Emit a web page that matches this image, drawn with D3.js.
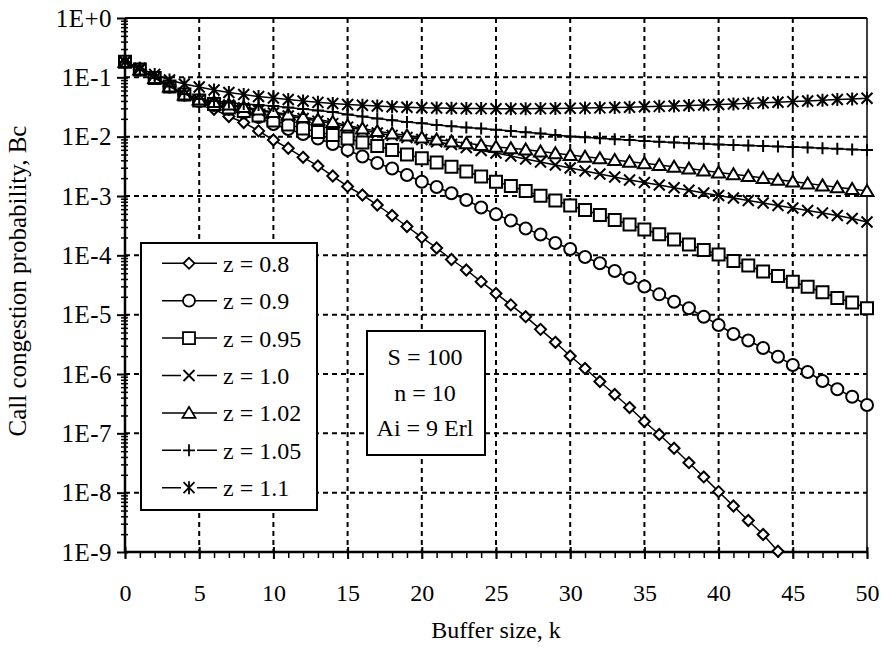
<!DOCTYPE html>
<html>
<head>
<meta charset="utf-8">
<script src="https://cdn.jsdelivr.net/npm/d3@7"></script>
<style>
  body { margin: 0; background: #fff; }
  svg text { font-family: "Liberation Serif", "Times New Roman", serif; fill: #000; }
</style>
</head>
<body>
<script>

//Buffer size values (x axis).
const bufferSizes = [0,1,2,3,4,5,6,7,8,9,10,11,12,13,14,15,16,17,18,19,20,21,22,23,24,25,
  26,27,28,29,30,31,32,33,34,35,36,37,38,39,40,41,42,43,44,45,46,47,48,49,50];

//Call congestion probability for each z.
const z08 = [0.183,0.136,0.0974,0.0700,0.0503,0.0389,0.0290,0.0219,0.0173,0.0125,
  8.79e-3,6.37e-3,4.49e-3,3.21e-3,2.17e-3,1.45e-3,1.04e-3,7.05e-4,4.69e-4,3.06e-4,
  2.01e-4,1.33e-4,8.51e-5,5.66e-5,3.60e-5,2.28e-5,1.46e-5,9.25e-6,5.66e-6,3.42e-6,
  2.01e-6,1.24e-6,7.48e-7,4.51e-7,2.72e-7,1.58e-7,9.56e-8,5.60e-8,3.20e-8,1.84e-8,
  1.04e-8,5.96e-9,3.40e-9,1.97e-9,1.03e-9];
const z09 = [0.183,0.136,0.0974,0.0700,0.0513,0.0399,0.0342,0.0292,0.0255,0.0215,
  0.0163,0.0135,0.0111,9.31e-3,7.52e-3,5.96e-3,4.63e-3,3.60e-3,2.91e-3,2.26e-3,
  1.74e-3,1.42e-3,1.11e-3,8.55e-4,6.40e-4,4.91e-4,3.86e-4,2.83e-4,2.24e-4,1.61e-4,
  1.28e-4,9.37e-5,7.34e-5,5.44e-5,4.15e-5,2.98e-5,2.20e-5,1.65e-5,1.28e-5,9.25e-6,
  6.70e-6,4.72e-6,3.67e-6,2.74e-6,1.95e-6,1.42e-6,1.08e-6,7.62e-7,5.52e-7,4.14e-7,3.00e-7];
const z095 = [0.183,0.136,0.0974,0.0700,0.0513,0.0407,0.0356,0.0310,0.0271,0.0228,
  0.0187,0.0160,0.0137,0.0120,0.0107,9.31e-3,7.97e-3,6.96e-3,5.96e-3,5.01e-3,
  4.32e-3,3.67e-3,3.12e-3,2.59e-3,2.13e-3,1.74e-3,1.47e-3,1.21e-3,1.01e-3,8.40e-4,
  6.92e-4,5.81e-4,4.78e-4,3.94e-4,3.31e-4,2.72e-4,2.26e-4,1.85e-4,1.52e-4,1.23e-4,
  1.03e-4,8.02e-5,6.74e-5,5.34e-5,4.49e-5,3.60e-5,2.96e-5,2.38e-5,1.91e-5,1.60e-5,1.28e-5];
const z10 = [0.183,0.136,0.0974,0.0700,0.0513,0.0415,0.0377,0.0342,0.0304,0.0276,
  0.0251,0.0223,0.0202,0.0183,0.0166,0.0145,0.0129,0.0115,0.0105,9.68e-3,
  8.96e-3,8.23e-3,7.38e-3,6.57e-3,5.85e-3,5.31e-3,4.72e-3,4.20e-3,3.74e-3,3.33e-3,
  2.96e-3,2.64e-3,2.35e-3,2.09e-3,1.86e-3,1.69e-3,1.53e-3,1.38e-3,1.25e-3,1.12e-3,
  1.02e-3,9.25e-4,8.40e-4,7.62e-4,6.92e-4,6.28e-4,5.70e-4,5.17e-4,4.69e-4,4.18e-4,3.65e-4];
const z102 = [0.183,0.136,0.0974,0.0700,0.0513,0.0423,0.0384,0.0348,0.0316,0.0287,
  0.0261,0.0237,0.0215,0.0195,0.0177,0.0154,0.0137,0.0124,0.0113,0.0105,
  9.68e-3,8.96e-3,8.33e-3,7.73e-3,7.24e-3,6.78e-3,6.37e-3,6.08e-3,5.62e-3,5.24e-3,
  4.91e-3,4.59e-3,4.32e-3,4.04e-3,3.79e-3,3.56e-3,3.33e-3,3.11e-3,2.90e-3,2.69e-3,
  2.50e-3,2.33e-3,2.17e-3,2.01e-3,1.88e-3,1.75e-3,1.63e-3,1.51e-3,1.41e-3,1.31e-3,1.21e-3];
const z105 = [0.183,0.136,0.0974,0.0700,0.0524,0.0432,0.0399,0.0377,0.0356,0.0342,
  0.0329,0.0310,0.0292,0.0276,0.0261,0.0237,0.0219,0.0202,0.0189,0.0177,
  0.0168,0.0158,0.0150,0.0143,0.0137,0.0131,0.0125,0.0119,0.0113,0.0107,
  0.0101,9.76e-3,9.39e-3,9.06e-3,8.75e-3,8.45e-3,8.19e-3,7.97e-3,7.76e-3,7.58e-3,
  7.41e-3,7.24e-3,7.10e-3,6.96e-3,6.83e-3,6.67e-3,6.55e-3,6.40e-3,6.25e-3,6.10e-3,5.96e-3];
const z11 = [0.183,0.142,0.112,0.0902,0.0772,0.0687,0.0611,0.0555,0.0514,0.0475,
  0.0449,0.0423,0.0399,0.0379,0.0362,0.0348,0.0338,0.0329,0.0320,0.0314,
  0.0308,0.0304,0.0301,0.0298,0.0297,0.0296,0.0296,0.0296,0.0297,0.0298,
  0.0301,0.0303,0.0306,0.0310,0.0314,0.0319,0.0324,0.0329,0.0335,0.0342,
  0.0348,0.0356,0.0364,0.0372,0.0381,0.0390,0.0399,0.0410,0.0422,0.0433,0.0445];

//Legend labels, marker kinds and tick labels.
const seriesLabels = ["z = 0.8", "z = 0.9", "z = 0.95", "z = 1.0", "z = 1.02", "z = 1.05", "z = 1.1"];
const seriesMarkers = ["diamond", "circle", "square", "cross", "triangle", "plus", "star"];
const seriesValues = [z08, z09, z095, z10, z102, z105, z11];
const xTicks = [0, 5, 10, 15, 20, 25, 30, 35, 40, 45, 50];
const yTicks = [1, 1e-1, 1e-2, 1e-3, 1e-4, 1e-5, 1e-6, 1e-7, 1e-8, 1e-9];
const yTickLabels = ["1E+0", "1E-1", "1E-2", "1E-3", "1E-4", "1E-5", "1E-6", "1E-7", "1E-8", "1E-9"];
const infoLines = ["S = 100", "n = 10", "Ai = 9 Erl"];

//Dimensions.
const width = 882;
const height = 648;
const margin = { top: 18, right: 15, bottom: 96, left: 125 };
const plotW = width - margin.left - margin.right;
const plotH = height - margin.top - margin.bottom;

//Scales.
const x = d3.scaleLinear().domain([0, 50]).range([0, plotW]);
const y = d3.scaleLog().domain([1e-9, 1]).range([plotH, 0]);

//Marker path for a given kind, centred at 0,0.
function markerPath(kind) {
  switch (kind) {
    case "diamond": return "M0,-5.5L5.5,0L0,5.5L-5.5,0Z";
    case "circle": return "M-6,0a6,6 0 1,0 12,0a6,6 0 1,0 -12,0Z";
    case "square": return "M-6,-6H6V6H-6Z";
    case "cross": return "M-5.5,-5.5L5.5,5.5M-5.5,5.5L5.5,-5.5";
    case "triangle": return "M0,-6L6.5,5L-6.5,5Z";
    case "plus": return "M-6,0H6M0,-6V6";
    case "star": return "M-5.5,-5.5L5.5,5.5M-5.5,5.5L5.5,-5.5M0,-6.5V6.5";
  }
}
const openMarkers = ["cross", "plus", "star"];

const svg = d3.select("body")
  .append("svg")
  .attr("width", width)
  .attr("height", height);

svg.append("rect").attr("width", width).attr("height", height).attr("fill", "#fff");

const g = svg.append("g")
  .attr("transform", `translate(${margin.left},${margin.top})`);

//Dashed grid lines.
g.selectAll(".hgrid")
  .data(yTicks.slice(1, -1))
  .join("line")
  .attr("x1", 0).attr("x2", plotW)
  .attr("y1", d => y(d)).attr("y2", d => y(d))
  .attr("stroke", "#000").attr("stroke-width", 2)
  .attr("stroke-dasharray", "5,4");

g.selectAll(".vgrid")
  .data(xTicks.slice(1, -1))
  .join("line")
  .attr("x1", d => x(d)).attr("x2", d => x(d))
  .attr("y1", 0).attr("y2", plotH)
  .attr("stroke", "#000").attr("stroke-width", 2)
  .attr("stroke-dasharray", "5,4");

//Top and right frame lines.
g.append("line").attr("x1", 0).attr("x2", plotW).attr("y1", 0).attr("y2", 0)
  .attr("stroke", "#000").attr("stroke-width", 2);
g.append("line").attr("x1", plotW).attr("x2", plotW).attr("y1", 0).attr("y2", plotH)
  .attr("stroke", "#000").attr("stroke-width", 1.5);

//Y axis with minor ticks.
const minorY = [];
yTicks.slice(1).forEach(p => { for (let m = 2; m <= 9; m++) minorY.push(p * m); });

g.append("g")
  .call(d3.axisLeft(y).tickValues(minorY).tickSize(4).tickFormat(""))
  .call(a => a.select(".domain").remove())
  .call(a => a.selectAll(".tick line").attr("x1", 3).attr("stroke-width", 1.5));

const yAxis = g.append("g")
  .call(d3.axisLeft(y).tickValues(yTicks).tickSize(8).tickPadding(5)
    .tickFormat((d, i) => yTickLabels[i]));
yAxis.select(".domain").attr("stroke-width", 2.5).attr("d", `M0,0V${plotH}`);
yAxis.selectAll(".tick line").attr("x1", 3).attr("stroke-width", 2);
yAxis.selectAll(".tick text").style("font-size", "25px")
  .style("letter-spacing", "0.5px")
  .style("font-family", "Liberation Serif, Times New Roman, serif");

//X axis with minor ticks.
g.append("g")
  .attr("transform", `translate(0,${plotH})`)
  .call(d3.axisBottom(x).tickValues(bufferSizes).tickSize(6).tickFormat(""))
  .call(a => a.select(".domain").remove())
  .call(a => a.selectAll(".tick line").attr("stroke-width", 1.5));

const xAxis = g.append("g")
  .attr("transform", `translate(0,${plotH})`)
  .call(d3.axisBottom(x).tickValues(xTicks).tickSize(7).tickPadding(25));
xAxis.select(".domain").attr("stroke-width", 2.5).attr("d", `M0,0H${plotW}`);
xAxis.selectAll(".tick line").attr("y1", -5).attr("stroke-width", 2);
xAxis.selectAll(".tick text").style("font-size", "24px")
  .style("font-family", "Liberation Serif, Times New Roman, serif");

//Axis titles.
svg.append("text")
  .attr("x", margin.left + plotW / 2)
  .attr("y", 638)
  .attr("text-anchor", "middle")
  .style("font-size", "24px")
  .text("Buffer size, k");

svg.append("text")
  .attr("transform", `translate(26,${margin.top + plotH / 2 - 4}) rotate(-90)`)
  .attr("text-anchor", "middle")
  .style("font-size", "25px")
  .text("Call congestion probability, Bc");

//Series lines and markers.
const line = d3.line()
  .x((d, i) => x(bufferSizes[i]))
  .y(d => y(d));

seriesValues.forEach((vals, s) => {
  g.append("path")
    .datum(vals)
    .attr("d", line)
    .attr("fill", "none")
    .attr("stroke", "#000")
    .attr("stroke-width", 1.5);

  g.selectAll(null)
    .data(vals)
    .join("path")
    .attr("transform", (d, i) => `translate(${x(bufferSizes[i])},${y(d)})`)
    .attr("d", markerPath(seriesMarkers[s]))
    .attr("fill", openMarkers.includes(seriesMarkers[s]) ? "none" : "#fff")
    .attr("stroke", "#000")
    .attr("stroke-width", 2);
});

//Legend box.
const legend = svg.append("g").attr("transform", "translate(141,243)");
legend.append("rect")
  .attr("width", 176).attr("height", 267)
  .attr("fill", "#fff").attr("stroke", "#000").attr("stroke-width", 2);

const entry = legend.selectAll(".entry")
  .data(seriesLabels)
  .join("g")
  .attr("transform", (d, i) => `translate(0,${20.3 + i * 37.4})`);

entry.append("line")
  .attr("x1", 21).attr("x2", 76)
  .attr("stroke", "#000").attr("stroke-width", 1.5);

entry.filter((d, i) => openMarkers.includes(seriesMarkers[i]))
  .append("rect")
  .attr("x", 40).attr("y", -8).attr("width", 16).attr("height", 16)
  .attr("fill", "#fff");

entry.append("path")
  .attr("transform", "translate(48,0)")
  .attr("d", (d, i) => markerPath(seriesMarkers[i]))
  .attr("fill", (d, i) => openMarkers.includes(seriesMarkers[i]) ? "none" : "#fff")
  .attr("stroke", "#000")
  .attr("stroke-width", 1.8);

entry.append("text")
  .attr("x", 82)
  .attr("dy", "0.35em")
  .style("font-size", "24px")
  .text(d => d);

//Parameter box.
const info = svg.append("g").attr("transform", "translate(367,331)");
info.append("rect")
  .attr("width", 118).attr("height", 124)
  .attr("fill", "#fff").attr("stroke", "#000").attr("stroke-width", 2);
info.selectAll("text")
  .data(infoLines)
  .join("text")
  .attr("x", 58)
  .attr("y", (d, i) => 34 + i * 35.5)
  .attr("text-anchor", "middle")
  .style("font-size", "24px")
  .text(d => d);

</script>
</body>
</html>
